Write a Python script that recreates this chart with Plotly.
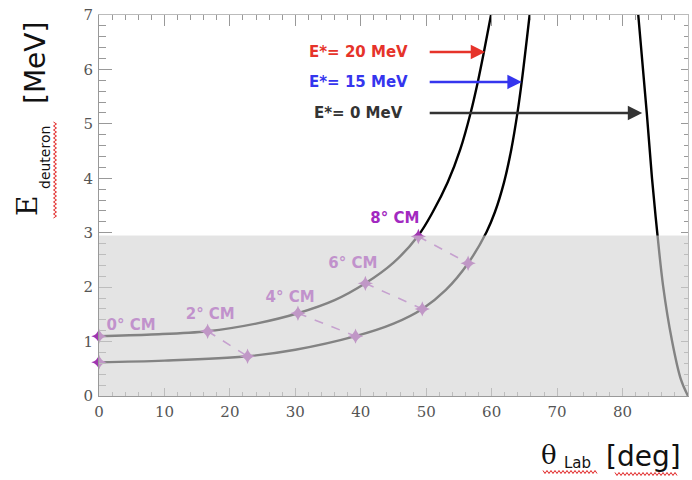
import plotly.graph_objects as go

# ---------------- data ----------------
curve_a_x = [0, 8, 16.6, 24, 30.4, 36, 40.7, 45, 48.8, 51.0, 53.3, 55.2, 56.8, 57.9, 58.8, 59.9]
curve_a_y = [1.10, 1.13, 1.19, 1.33, 1.52, 1.76, 2.07, 2.45, 2.95, 3.38, 3.93, 4.53, 5.21, 5.78, 6.31, 7.0]

curve_b_x = [0, 10, 22.7, 30, 39.2, 45, 49.4, 53, 56.4, 59.2, 60.5, 61.9, 63.0, 63.95, 64.6, 65.8]
curve_b_y = [0.62, 0.65, 0.73, 0.85, 1.10, 1.33, 1.60, 1.95, 2.44, 3.01, 3.38, 3.93, 4.53, 5.21, 5.78, 7.0]

curve_c_x = [82.4, 83.7, 84.5, 85.3, 86.2, 87.5, 88.9, 90.0]
curve_c_y = [7.0, 5.2, 4.0, 3.0, 2.02, 1.05, 0.31, 0.0]

cm_upper_x = [0, 16.6, 30.4, 40.7, 48.8]
cm_upper_y = [1.10, 1.19, 1.52, 2.07, 2.93]
cm_lower_x = [0, 22.7, 39.2, 49.4, 56.4]
cm_lower_y = [0.62, 0.73, 1.10, 1.60, 2.44]

cm_labels = ["0° CM", "2° CM", "4° CM", "6° CM", "8° CM"]
cm_label_x = [4.9, 17.0, 29.2, 38.8, 45.2]
cm_label_y = [1.29, 1.49, 1.80, 2.42, 3.25]

exc_labels = ["E*= 20 MeV", "E*= 15 MeV", "E*= 0 MeV"]
exc_colors = ["#e6332a", "#3535ee", "#333333"]
exc_y = [6.32, 5.77, 5.20]
exc_text_x = 39.6
exc_arrow_tail_x = 50.3
exc_arrow_head_x = [59.0, 64.6, 83.0]

x_range = [0, 90]
y_range = [0, 7]
gray_band_top = 2.95

# ---------------- figure ----------------
W, H = 692, 480
ML, MR, MT, MB = 99, 4, 15, 84
PW, PH = W - ML - MR, H - MT - MB

def px2paper(px, py):
    return (px - ML) / PW, (H - MB - py) / PH

fig = go.Figure()

for cx, cy in [(curve_a_x, curve_a_y), (curve_b_x, curve_b_y), (curve_c_x, curve_c_y)]:
    fig.add_trace(go.Scatter(x=cx, y=cy, mode="lines",
                             line=dict(color="black", width=2.4, shape="spline", smoothing=1.0),
                             hoverinfo="skip", showlegend=False))

# dashed connectors between equal CM angles
dx, dy = [], []
for i in range(1, len(cm_upper_x)):
    dx += [cm_upper_x[i], cm_lower_x[i], None]
    dy += [cm_upper_y[i], cm_lower_y[i], None]
fig.add_trace(go.Scatter(x=dx, y=dy, mode="lines", line=dict(color="#b050c8", width=1.6, dash="dash"),
                         hoverinfo="skip", showlegend=False))

fig.add_trace(go.Scatter(x=cm_upper_x + cm_lower_x, y=cm_upper_y + cm_lower_y, mode="markers",
                         marker=dict(symbol="star-diamond", size=11, color="#a035b0"),
                         cliponaxis=False, hoverinfo="skip", showlegend=False))

fig.add_trace(go.Scatter(x=cm_label_x, y=cm_label_y, mode="text",
                         text=[f"<b>{t}</b>" for t in cm_labels],
                         textfont=dict(family="DejaVu Sans", size=15, color="#a229c0"),
                         cliponaxis=False, hoverinfo="skip", showlegend=False))

# dummy trace for the mirrored top/right axes
fig.add_trace(go.Scatter(x=[None], y=[None], xaxis="x2", yaxis="y2", showlegend=False, hoverinfo="skip"))

# gray translucent band drawn above the data
fig.add_shape(type="rect", xref="x", yref="y", x0=x_range[0], x1=x_range[1], y0=0, y1=gray_band_top,
              fillcolor="rgba(212,212,212,0.62)", line=dict(width=0), layer="above")

# excitation-energy labels and arrows
for lab, col, yy, hx in zip(exc_labels, exc_colors, exc_y, exc_arrow_head_x):
    fig.add_annotation(x=exc_text_x, y=yy, xref="x", yref="y", text=f"<b>{lab}</b>", showarrow=False,
                       font=dict(family="DejaVu Sans", size=15, color=col), xanchor="center", yanchor="middle")
    fig.add_annotation(x=hx, y=yy, ax=exc_arrow_tail_x, ay=yy, xref="x", yref="y", axref="x", ayref="y",
                       text="", showarrow=True, arrowhead=2, arrowsize=1.2, arrowwidth=2.4, arrowcolor=col,
                       standoff=0)

# axis titles (pieces positioned individually)
def ann(px, py, text, family, size, color="#111", angle=0):
    x, y = px2paper(px, py)
    fig.add_annotation(x=x, y=y, xref="paper", yref="paper", text=text, showarrow=False, textangle=angle,
                       font=dict(family=family, size=size, color=color), xanchor="center", yanchor="middle")

ann(28, 206, "E", "DejaVu Serif", 28, angle=-90)
ann(45, 158, "deuteron", "DejaVu Sans", 14, angle=-90)
ann(35, 63, "[MeV]", "DejaVu Sans", 28, angle=-90)

ann(549, 455, "θ", "DejaVu Serif", 26)
ann(577, 463, "Lab", "DejaVu Sans", 15)
ann(643, 456, "[deg]", "DejaVu Sans", 28)

# red spell-check squiggles (decoration)
def squiggle(x0, y0, x1, y1, vertical=False, amp=1.5, step=2.0):
    pts = []
    n = int(abs((y1 - y0) if vertical else (x1 - x0)) / step)
    for k in range(n + 1):
        off = amp if k % 2 else -amp
        if vertical:
            pts.append(px2paper(x0 + off, y0 + (y1 - y0) * k / n))
        else:
            pts.append(px2paper(x0 + (x1 - x0) * k / n, y0 + off))
    path = "M " + " L ".join(f"{a:.5f},{b:.5f}" for a, b in pts)
    fig.add_shape(type="path", xref="paper", yref="paper", path=path, line=dict(color="#e02020", width=1))

squiggle(55, 122, 55, 218, vertical=True)
squiggle(543, 472, 597, 472)
squiggle(615, 474, 677, 474)

tickfont = dict(family="DejaVu Serif", size=15, color="#555")
axcol = "#999"
fig.update_layout(
    width=W, height=H, margin=dict(l=ML, r=MR, t=MT, b=MB),
    paper_bgcolor="white", plot_bgcolor="white", showlegend=False,
    xaxis=dict(range=x_range, autorange=False, dtick=10, tick0=0, ticks="inside", ticklen=8, tickcolor=axcol,
               showline=True, linecolor=axcol, linewidth=1, showgrid=False, zeroline=False,
               tickfont=tickfont, ticklabelstandoff=2,
               minor=dict(ticks="inside", dtick=2, ticklen=4, tickcolor=axcol, showgrid=False)),
    yaxis=dict(range=y_range, autorange=False, dtick=1, tick0=0, ticks="inside", ticklen=13, tickcolor=axcol,
               showline=True, linecolor=axcol, linewidth=1, showgrid=False, zeroline=False,
               tickfont=tickfont, ticklabelstandoff=2,
               minor=dict(ticks="inside", dtick=0.2, ticklen=7, tickcolor=axcol, showgrid=False)),
    xaxis2=dict(range=x_range, autorange=False, overlaying="x", side="top", anchor="y", dtick=10, tick0=0,
                ticks="inside", ticklen=11, tickcolor=axcol, showline=True, linecolor="#bbb",
                showticklabels=False, showgrid=False, zeroline=False,
                minor=dict(ticks="inside", dtick=2, ticklen=5, tickcolor=axcol, showgrid=False)),
    yaxis2=dict(range=y_range, autorange=False, overlaying="y", side="right", anchor="x", dtick=1, tick0=0,
                ticks="inside", ticklen=7, tickcolor=axcol, showline=True, linecolor="#bbb",
                showticklabels=False, showgrid=False, zeroline=False,
                minor=dict(ticks="inside", dtick=0.2, ticklen=4, tickcolor=axcol, showgrid=False)),
)

fig.write_html("out.html")
